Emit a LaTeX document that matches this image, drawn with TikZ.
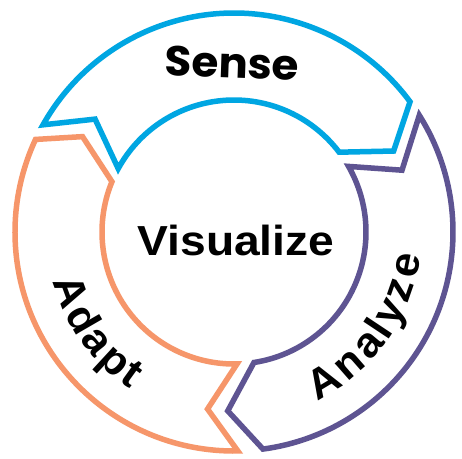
\documentclass[tikz,border=0pt]{standalone}
\usepackage{graphicx}
\usepackage{fontspec}
\setmainfont{Liberation Sans}
\newfontfamily\sensefont{Poppins}
\definecolor{senseblue}{RGB}{0,166,226}
\definecolor{analyzepurple}{RGB}{94,84,146}
\definecolor{adaptorange}{RGB}{246,150,106}
\tikzset{
  ring/.style={line width=5.5pt, line join=miter},
  lbl/.style={font=\fontsize{42}{42}\selectfont\bfseries, inner sep=0pt, anchor=base, text=black}
}
% #1 colour, #2 tail outer, #3 tail inner, #4 notch, #5 head outer, #6 head inner, #7 tip
\newcommand\ringseg[7]{%
  \draw[ring,#1] (#2:219) arc[start angle=#2, end angle=#5, radius=219pt]
    -- (#7:179) -- (#6:132) arc[start angle=#6, end angle=#3, radius=132pt]
    -- (#4:179) -- cycle;}
% #1 name, #2 angle, #3 letter
\newcommand\arcchar[3]{%
  \node[lbl, rotate=#2+90] (#1) at (#2:188) {\scalebox{1.04}[1]{#3}};}
\begin{document}
\begin{tikzpicture}[x=1pt,y=1pt]
\useasboundingbox[fill=white] (-234,-226) rectangle (228,232);
% ring segments
\ringseg{senseblue}{150.7}{151.3}{140.9}{36.5}{37.2}{26.9}
\ringseg{analyzepurple}{32.2}{29.8}{20.2}{-82.4}{-81.3}{-92}
\ringseg{adaptorange}{-89}{-88.7}{-98.5}{-205}{-202.4}{-212.2}
% labels
\node[lbl] (vis) at (2,-23) {\scalebox{1.1}[1]{Visualize}};
\node[lbl, font=\sensefont\fontsize{42}{42}\selectfont\bfseries, rotate=-2] (sense) at (-2.5,154) {\scalebox{1.04}[1]{Sense}};
% Adapt
\arcchar{ad1}{200.15}{A}
\arcchar{ad2}{210.0}{d}
\arcchar{ad3}{218.6}{a}
\arcchar{ad4}{227.3}{p}
\arcchar{ad5}{234.2}{t}
% Analyze
\arcchar{an1}{-59}{A}
\arcchar{an2}{-48.8}{n}
\arcchar{an3}{-39.9}{a}
\arcchar{an4}{-33.6}{l}
\arcchar{an5}{-27.2}{y}
\arcchar{an6}{-19.2}{z}
\arcchar{an7}{-11}{e}
\end{tikzpicture}
\end{document}
